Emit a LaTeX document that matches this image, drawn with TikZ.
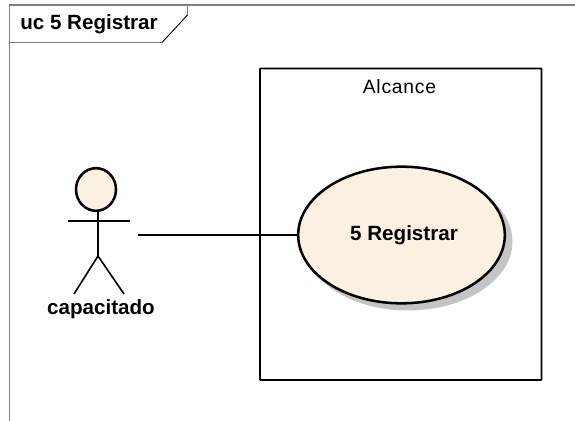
\documentclass[tikz,border=0pt]{standalone}
\usepackage{fontspec}
\setmainfont{Liberation Sans}
\usetikzlibrary{shapes.geometric}
\definecolor{ucframe}{HTML}{7F7F7F}
\definecolor{ucfill}{HTML}{FBF1E3}
\definecolor{ucshadow}{HTML}{C4C4C4}
\tikzset{
  labelbold/.style={font=\fontsize{15.45}{18}\selectfont\bfseries,text=black,inner sep=0pt},
  limb/.style={black,line width=1.2pt},
  usecase/.style={ellipse,draw=black,line width=1.9pt,fill=ucfill,inner sep=0pt,
    minimum width=155pt,minimum height=102.5pt}
}

\begin{document}
\begin{tikzpicture}[x=0.75pt,y=-0.75pt]
  \useasboundingbox (0,0) rectangle (575,421);

  % ---- Diagram frame -----------------------------------------
  \draw[ucframe,line width=1.4pt] (9.5,421) -- (9.5,5) -- (575,5);
  \draw[ucframe,line width=1.4pt] (9.5,42.5) -- (162,42.5);
  \draw[ucframe,line width=1pt] (187.5,5) -- (187.5,15);
  \draw[black,line width=0.7pt] (187.5,15) -- (162,42.5);
  \node[labelbold,anchor=west] (frametitle) at (20,24.5) {uc 5 Registrar};

  % ---- Scope box ---------------------------------------------
  \draw[black,line width=1.4pt,rounded corners=0.5pt] (260,68.5) rectangle (541.5,380);
  \node[font=\fontsize{14.5}{17}\selectfont\addfontfeature{LetterSpace=4},inner sep=0pt] (alcance) at (399.5,87) {Alcance};

  % ---- Use case ----------------------------------------------
  % shadow
  \fill[ucshadow] (408,241.5) ellipse (104.5 and 69);
  \node[usecase] (registrar) at (401.5,235) {};
  \node[labelbold] (registrarlabel) at (404,235) {5 Registrar};

  % ---- Actor -------------------------------------------------
  % head
  \node[ellipse,draw=black,line width=1.9pt,fill=ucfill,inner sep=0pt,minimum width=30pt,minimum height=32pt] (head) at (96,189.5) {};
  % body
  \coordinate (neck) at (98,211);
  \coordinate (hip) at (98,256);
  \draw[limb] (neck) -- (hip);
  \draw[limb] (68,221) -- (130,221);
  \draw[limb] (74,294) -- (hip) -- (124,294);
  \node[labelbold] (capacitado) at (101,309) {capacitado};

  % ---- Connector ---------------------------------------------
  \coordinate (actorend) at (138,235);
  \draw[black,line width=1.2pt] (actorend) -- (registrar.west);

\end{tikzpicture}
\end{document}
